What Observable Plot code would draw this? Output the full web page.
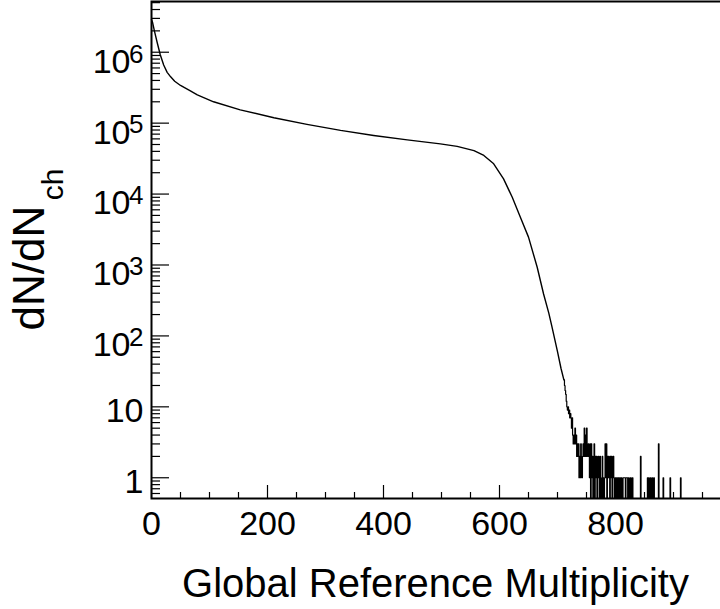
<!DOCTYPE html>
<html><head><meta charset="utf-8">
<script src="https://cdn.jsdelivr.net/npm/d3@7"></script>
<script src="https://cdn.jsdelivr.net/npm/@observablehq/plot@0.6"></script>
<style>
html,body{margin:0;padding:0;background:#fff;overflow:hidden;}
#chart svg{max-width:none !important;display:block;}
</style></head><body><div id="chart"></div>
<script>
// Smooth part of the multiplicity distribution (bin position, counts)
const mainX = [0, 2, 5, 10, 15, 21, 27, 33, 40, 50, 67, 79, 107, 153, 211, 268, 326, 383, 441, 498, 527, 556, 573, 590, 607, 622, 636, 650, 665, 676, 685, 690, 700, 706, 711];
const mainY = [2.9e6, 2.6e6, 2.0e6, 1.35e6, 9.3e5, 6.6e5, 5.2e5, 4.5e5, 3.9e5, 3.4e5, 2.85e5, 2.5e5, 2.0e5, 1.54e5, 1.19e5, 9.6e4, 7.9e4, 6.7e4, 5.8e4, 5.1e4, 4.7e4, 4.1e4, 3.5e4, 2.67e4, 1.64e4, 9.0e3, 4.7e3, 2.47e3, 930, 390, 210, 140, 60, 35, 24];
// Tail: non-empty bins (bin, counts); every other bin in [712, 1000] is empty
const tailBins = [712,713,714,715,716,717,718,719,720,721,722,723,724,725,726,727,728,729,730,731,732,733,734,735,736,737,738,739,740,741,742,743,744,745,746,747,748,749,750,751,752,753,754,755,756,758,759,760,762,763,765,766,767,769,770,771,773,774,776,777,779,781,782,783,784,786,787,788,789,791,792,793,795,796,797,799,800,802,804,805,807,809,810,813,814,815,816,818,819,820,822,825,826,829,843,855,857,860,863,866,874,882,894,912];
const tailCounts = [20,17,15,12,10,9,10,8,9,7,8,7,5,7,4,3,4,3,5,3,4,2,3,2,3,1,2,1,3,2,1,2,3,2,5,2,4,2,5,3,2,3,2,1,3,3,1,2,1,3,2,1,2,1,2,1,2,1,1,2,1,1,3,1,3,2,1,2,1,2,1,2,1,2,1,1,1,1,1,1,1,1,1,1,1,1,1,1,1,1,1,1,1,1,2,1,1,1,1,1,3,1,1,1];

const xDomain = [0, 1000];
const yDomain = [0.51, 5.19e6];
const xTickValues = [0, 200, 400, 600, 800];
const xTickLabels = ["0", "200", "400", "600", "800"];
const xMinorStep = 50;
const yPlainTicks = [1, 10];
const yPlainLabels = ["1", "10"];
const yPowTicks = [1e2, 1e3, 1e4, 1e5, 1e6];
const yPowBase = ["10", "10", "10", "10", "10"];
const yPowExps = ["2", "3", "4", "5", "6"];
const yMinorMult = [2, 3, 4, 5, 6, 7, 8, 9];
const yDecades = [0.1, 1, 10, 100, 1e3, 1e4, 1e5, 1e6];
const xTitle = "Global Reference Multiplicity";
const yTitleMain = "dN/dN";
const yTitleSub = "ch";

const W = 740, H = 609, mL = 151, mR = 9, mT = 1, mB = 111;
const innerW = W - mL - mR, innerH = H - mT - mB;

const mainData = mainX.map((x, i) => ({x, y: mainY[i]}));
const tailMap = new Map(tailBins.map((b, i) => [b, tailCounts[i]]));
const tailData = d3.range(711, 1001).map(b => ({x: b + 0.5, y: b === 711 ? mainY[mainY.length - 1] : (tailMap.get(b) || 0)}));

const yMinor = yDecades.flatMap(d => yMinorMult.map(m => d * m)).filter(v => v > yDomain[0] && v < yDomain[1] && !yPlainTicks.concat(yPowTicks).includes(v));
const xMinor = d3.range(xDomain[0], xDomain[1] + 1, xMinorStep).filter(v => !xTickValues.includes(v) && v % 200 !== 0);
const xMajor = d3.range(xDomain[0], xDomain[1] + 1, 200);

const font = "'Liberation Sans', Arial, Helvetica, sans-serif";

const chart = Plot.plot({
  width: W, height: H,
  marginLeft: mL, marginRight: mR, marginTop: mT, marginBottom: mB,
  style: {fontFamily: font, background: "#fff", color: "#000", overflow: "visible"},
  x: {type: "linear", domain: xDomain, axis: null},
  y: {type: "log", domain: yDomain, clamp: true, axis: null},
  marks: [
    Plot.line(mainData, {x: "x", y: "y", stroke: "#000", strokeWidth: 1.4}),
    Plot.line(tailData, {x: "x", y: d => d.y > 0 ? d.y : yDomain[0], curve: "step", stroke: "#000", strokeWidth: 1.2}),
    // inward ticks
    Plot.tickX(xMajor, {x: d => d, insetTop: innerH - 13, stroke: "#000", strokeWidth: 1.2}),
    Plot.tickX(xMinor, {x: d => d, insetTop: innerH - 6, stroke: "#000", strokeWidth: 1.2}),
    Plot.tickY(yPlainTicks.concat(yPowTicks), {y: d => d, insetRight: innerW - 18, stroke: "#000", strokeWidth: 1.2}),
    Plot.tickY(yMinor, {y: d => d, insetRight: innerW - 9, stroke: "#000", strokeWidth: 1.2}),
    Plot.frame({stroke: "#000", strokeWidth: 2}),
    // x tick labels
    Plot.text(xTickValues, {x: d => d, text: (d, i) => xTickLabels[i], frameAnchor: "bottom", lineAnchor: "top", dy: 12, fontSize: 34, fill: "#000"}),
    // y tick labels
    Plot.text(yPlainTicks, {y: d => d, text: (d, i) => yPlainLabels[i], frameAnchor: "left", textAnchor: "end", lineAnchor: "middle", dx: -8, dy: 4.5, fontSize: 34, fill: "#000"}),
    Plot.text(yPowTicks, {y: d => d, text: (d, i) => yPowBase[i], frameAnchor: "left", textAnchor: "end", lineAnchor: "middle", dx: -21, dy: 9.5, fontSize: 34, fill: "#000"}),
    Plot.text(yPowTicks, {y: d => d, text: (d, i) => yPowExps[i], frameAnchor: "left", textAnchor: "end", lineAnchor: "middle", dx: -8, dy: 2, fontSize: 26, fill: "#000"}),
    // axis titles
    Plot.text([xTitle], {frameAnchor: "bottom", textAnchor: "middle", lineAnchor: "bottom", dx: -6, dy: 98, fontSize: 40, fill: "#000"}),
    Plot.text([yTitleMain], {frameAnchor: "left", rotate: -90, textAnchor: "start", lineAnchor: "bottom", dx: -108, dy: 80.5, fontSize: 44, fill: "#000"}),
    Plot.text([yTitleSub], {frameAnchor: "left", rotate: -90, textAnchor: "end", lineAnchor: "bottom", dx: -89, dy: -81.5, fontSize: 30, fill: "#000"})
  ]
});
document.getElementById("chart").appendChild(chart);
</script>
</body></html>
